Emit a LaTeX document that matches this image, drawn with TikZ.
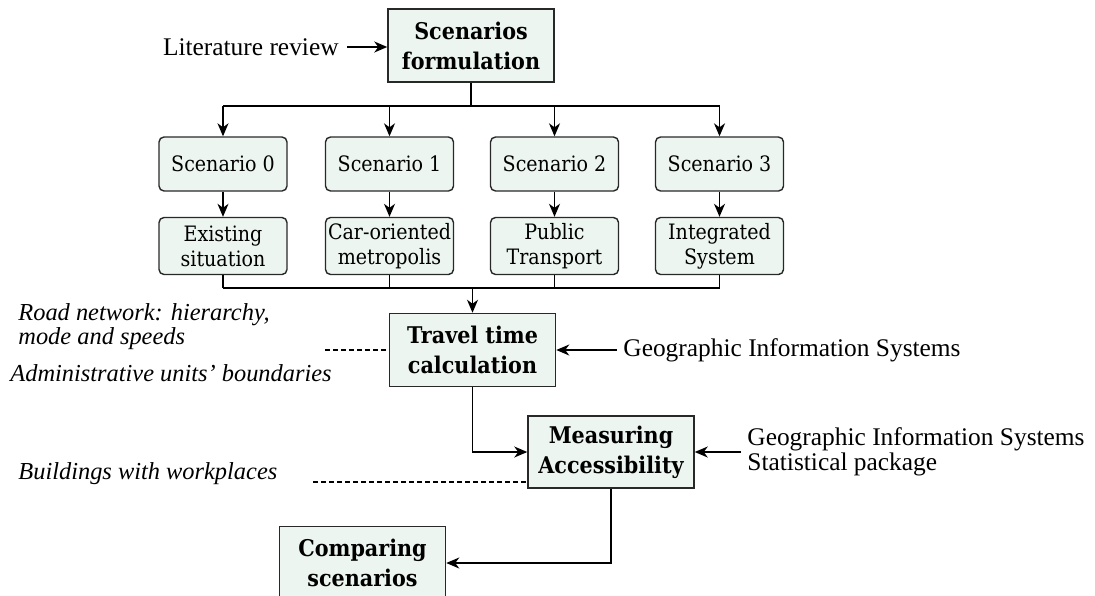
\documentclass[tikz,border=0pt]{standalone}
\usepackage{fontspec}
\setmainfont{Liberation Serif}
\newfontfamily\boxfont{DejaVu Serif}[FakeStretch=0.9]
\usetikzlibrary{arrows.meta}
\definecolor{boxfill}{RGB}{236,245,239}
\definecolor{edge}{RGB}{40,40,40}
\begin{document}
\begin{tikzpicture}[x=0.5pt,y=-0.5pt,
 mainbox/.style={draw=edge, line width=0.75pt, fill=boxfill, minimum width=83pt, minimum height=36.5pt, inner sep=1pt, align=center, font=\boxfont\bfseries\fontsize{11.5}{15}\selectfont},
 scenbox/.style={draw=edge, line width=0.7pt, fill=boxfill, rounded corners=2.5pt, minimum width=64pt, minimum height=27pt, inner sep=1pt, align=center, font=\boxfont\fontsize{10.6}{12.5}\selectfont},
 sidetext/.style={inner sep=0pt, font=\fontsize{12.7}{11}\selectfont, align=left},
 itext/.style={inner sep=0pt, font=\itshape\fontsize{12.2}{10.5}\selectfont, align=left},
 conn/.style={line width=0.65pt, draw=black},
 arr/.style={conn, -{Stealth[length=6.5pt,width=5.5pt,inset=2pt]}},
 dashline/.style={conn, dash pattern=on 2.5pt off 1.5pt},
]
\useasboundingbox (0,0) rectangle (1095,595);

% boxes
\node[mainbox] (sf) at (471,45.5) {Scenarios\\formulation};
\node[scenbox] (s0) at (223,164) {Scenario 0};
\node[scenbox] (s1) at (389.5,164) {Scenario 1};
\node[scenbox] (s2) at (554.5,164) {Scenario 2};
\node[scenbox] (s3) at (719.5,164) {Scenario 3};
\node[scenbox, minimum height=28.5pt] (r0) at (223,246) {Existing\\situation};
\node[scenbox, minimum height=28.5pt] (r1) at (389.5,246) {Car-oriented\\metropolis};
\node[scenbox, minimum height=28.5pt] (r2) at (554.5,246) {Public\\Transport};
\node[scenbox, minimum height=28.5pt] (r3) at (719.5,246) {Integrated\\System};
\node[mainbox] (tt) at (472.5,350) {Travel time\\calculation};
\node[mainbox, minimum height=36pt] (ma) at (611,452) {Measuring\\Accessibility};
\node[mainbox] (cs) at (362.5,563) {Comparing\\scenarios};

% side texts
\node[sidetext, anchor=east] (lit) at (339,47) {Literature review};
\node[itext, anchor=west] (road) at (18,327) {Road network: hierarchy,\\mode and speeds};
\node[itext, anchor=base west] (adm) at (10,381) {Administrative units' boundaries};
\node[itext, anchor=base west] (bld) at (18,479) {Buildings with workplaces};
\node[sidetext, anchor=west] (gis1) at (623,350) {Geographic Information Systems};
\node[sidetext, anchor=west] (gis2) at (747,452) {Geographic Information Systems\\Statistical package};

% coordinates
\coordinate (bus1) at (471,106);
\coordinate (bus2) at (472.5,288);
\coordinate (d1) at (325,350);
\coordinate (d2) at (313,482);

% connectors
\draw[arr, shorten <=4pt] (lit.east) -- (lit.east -| sf.west);
\draw[conn] (sf.south) -- (bus1);
\draw[conn] (bus1 -| s0.north) -- (bus1 -| s3.north);
\foreach \i in {0,...,3}{
  \draw[arr] (bus1 -| s\i.north) -- (s\i.north);
  \draw[arr] (s\i.south) -- (r\i.north);
  \draw[conn] (r\i.south) -- (bus2 -| r\i.south);
}
\draw[conn] (bus2 -| r0.south) -- (bus2 -| r3.south);
\draw[arr] (bus2) -- (tt.north);
\draw[dashline] (d1) -- (d1 -| tt.west);
\draw[arr, shorten <=3pt] (gis1.west) -- (gis1.west -| tt.east);
\draw[arr] (tt.south) |- (ma.west);
\draw[dashline] (d2) -- (d2 -| ma.west);
\draw[arr, shorten <=3pt] (gis2.west) -- (gis2.west -| ma.east);
\draw[arr] (ma.south) |- (cs.east);
\end{tikzpicture}
\end{document}
